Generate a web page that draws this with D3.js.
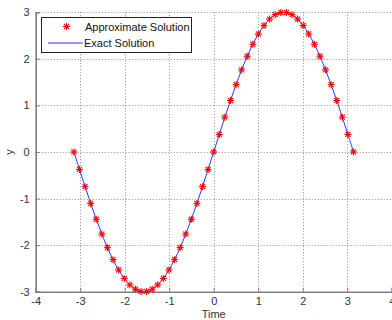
<!DOCTYPE html>
<html>
<head>
<meta charset="utf-8">
<script src="https://cdn.jsdelivr.net/npm/d3@7/dist/d3.min.js"></script>
<style>
  html, body { margin: 0; padding: 0; background: #fff; }
  svg { display: block; }
  text { font-family: "Liberation Sans", Arial, sans-serif; }
</style>
</head>
<body>
<svg id="chart" width="392" height="320"></svg>
<script>
// ---- data ----
const timeValues = [
  -3.142, -3.016, -2.890, -2.765, -2.639, -2.513, -2.388, -2.262, -2.136, -2.011,
  -1.885, -1.759, -1.634, -1.508, -1.382, -1.257, -1.131, -1.005, -0.880, -0.754,
  -0.628, -0.503, -0.377, -0.251, -0.126, 0.000, 0.126, 0.251, 0.377, 0.503,
  0.628, 0.754, 0.880, 1.005, 1.131, 1.257, 1.382, 1.508, 1.634, 1.759,
  1.885, 2.011, 2.136, 2.262, 2.388, 2.513, 2.639, 2.765, 2.890, 3.016, 3.142
];
const approxValues = [
  0.000, -0.376, -0.746, -1.104, -1.445, -1.763, -2.054, -2.312, -2.533, -2.714,
  -2.853, -2.947, -2.994, -2.994, -2.947, -2.853, -2.714, -2.533, -2.312, -2.054,
  -1.763, -1.445, -1.104, -0.746, -0.376, 0.000, 0.376, 0.746, 1.104, 1.445,
  1.763, 2.054, 2.312, 2.533, 2.714, 2.853, 2.947, 2.994, 2.994, 2.947,
  2.853, 2.714, 2.533, 2.312, 2.054, 1.763, 1.445, 1.104, 0.746, 0.376, 0.000
];
const exactValues = approxValues.slice();
const xTicks = [-4, -3, -2, -1, 0, 1, 2, 3, 4];
const yTicks = [-3, -2, -1, 0, 1, 2, 3];
const seriesNames = ["Approximate Solution", "Exact Solution"];

// ---- layout ----
const svg = d3.select("#chart");
const pLeft = 35.7, pRight = 391.7, pTop = 12.2, pBottom = 291.7;
const x = d3.scaleLinear().domain([-4, 4]).range([pLeft, pRight]);
const y = d3.scaleLinear().domain([-3, 3]).range([pBottom, pTop]);

const axisColor = "#7f7f7f";
const textColor = "#333";
const blue = "#3333ff";
const fmt = d => String(d);

// grid
const grid = svg.append("g");
grid.selectAll("line.vx").data(xTicks.filter(d => d > -4 && d < 4)).join("line")
  .attr("x1", d => Math.round(x(d)) + 0.5).attr("x2", d => Math.round(x(d)) + 0.5)
  .attr("y1", pTop).attr("y2", pBottom)
  .attr("stroke", "#8c8c8c").attr("stroke-width", 1).attr("stroke-dasharray", "1,2");
grid.selectAll("line.hy").data(yTicks.filter(d => d > -3)).join("line")
  .attr("y1", d => Math.round(y(d)) + 0.5).attr("y2", d => Math.round(y(d)) + 0.5)
  .attr("x1", pLeft).attr("x2", pRight)
  .attr("stroke", "#8c8c8c").attr("stroke-width", 1).attr("stroke-dasharray", "1,2");

// axes
const xAxis = d3.axisBottom(x).tickValues(xTicks).tickSize(-4).tickPadding(6)
  .tickFormat(fmt);
const gx = svg.append("g").attr("transform", `translate(0,${pBottom})`).call(xAxis);
const yAxis = d3.axisLeft(y).tickValues(yTicks).tickSize(-4).tickPadding(6)
  .tickFormat(fmt);
const gy = svg.append("g").attr("transform", `translate(${pLeft},0)`).call(yAxis);
[gx, gy].forEach(g => {
  g.select(".domain").attr("stroke", axisColor).attr("stroke-width", 1.6);
  g.selectAll(".tick line").attr("stroke", axisColor);
  g.selectAll(".tick text").attr("fill", textColor).attr("font-size", 11)
    .attr("font-family", "Liberation Sans, Arial, sans-serif");
});

// axis labels
svg.append("text").attr("x", x(0)).attr("y", 318)
  .attr("text-anchor", "middle").attr("font-size", 11).attr("fill", textColor)
  .text("Time");
svg.append("text").attr("transform", `translate(13,${y(0)}) rotate(-90)`)
  .attr("text-anchor", "middle").attr("font-size", 11).attr("fill", textColor)
  .text("y");

// exact line
const pts = timeValues.map((t, i) => [t, exactValues[i]]);
svg.append("path").datum(pts)
  .attr("d", d3.line().x(d => x(d[0])).y(d => y(d[1])).curve(d3.curveCatmullRom))
  .attr("fill", "none").attr("stroke", blue).attr("stroke-width", 1);

// asterisk marker
function asterisk(g, cx, cy, r) {
  const d = r * 0.72;
  const segs = [[0, -r, 0, r], [-r, 0, r, 0], [-d, -d, d, d], [-d, d, d, -d]];
  g.append("g").attr("transform", `translate(${cx},${cy})`)
    .selectAll("line").data(segs).join("line")
    .attr("x1", s => s[0]).attr("y1", s => s[1]).attr("x2", s => s[2]).attr("y2", s => s[3])
    .attr("stroke", "#ff0000").attr("stroke-width", 1.1);
}
const mk = svg.append("g");
timeValues.forEach((t, i) => asterisk(mk, x(t), y(approxValues[i]), 3.5));

// legend
const lg = svg.append("g");
lg.append("rect").attr("x", 41.5).attr("y", 17.5).attr("width", 150).attr("height", 35)
  .attr("fill", "#fff").attr("stroke", "#222").attr("stroke-width", 1);
asterisk(lg, 66.5, 26.5, 3.5);
lg.append("text").attr("x", 85).attr("y", 30.5).attr("font-size", 11).attr("fill", "#111")
  .text(seriesNames[0]);
lg.append("line").attr("x1", 48).attr("x2", 83).attr("y1", 43).attr("y2", 43)
  .attr("stroke", blue).attr("stroke-width", 1.2);
lg.append("text").attr("x", 84).attr("y", 47).attr("font-size", 11).attr("fill", "#111")
  .text(seriesNames[1]);
</script>
</body>
</html>
